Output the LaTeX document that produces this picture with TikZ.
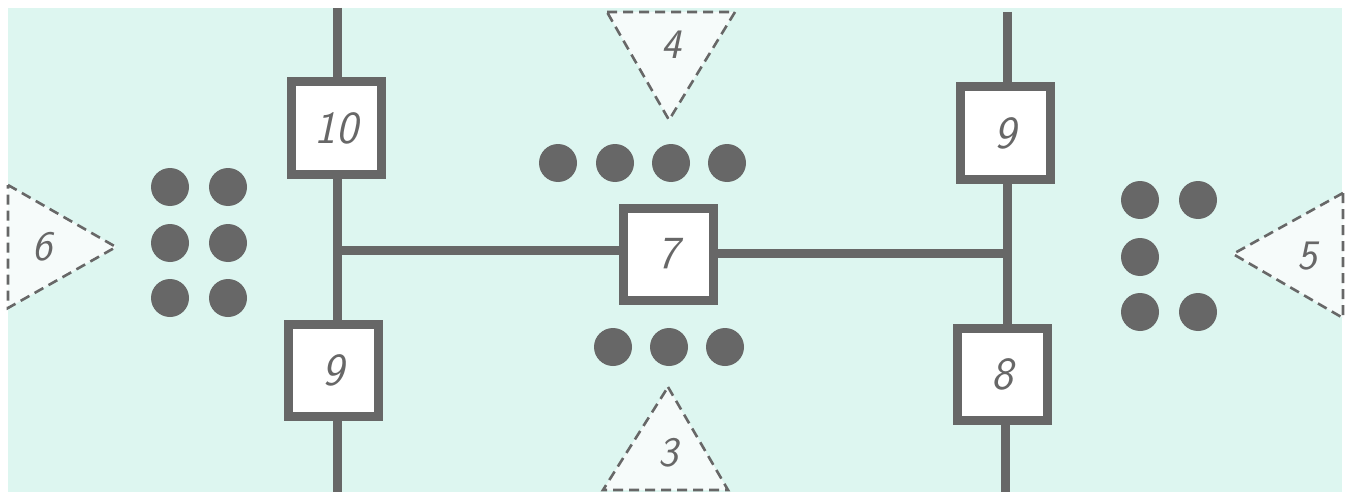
\documentclass[tikz,border=0pt]{standalone}
\usepackage{fontspec}
\usetikzlibrary{backgrounds}
\definecolor{bgcyan}{HTML}{DDF6F0}
\definecolor{ink}{HTML}{676767}
\definecolor{trifill}{HTML}{F6FBFA}
\tikzset{
  wire/.style={draw=ink, line width=9pt},
  stepbox/.style={draw=ink, line width=9pt, fill=white, minimum width=90pt, minimum height=92pt, inner sep=0pt, font=\fontsize{46}{46}\selectfont\sffamily\slshape, text=ink},
  dot/.style={circle, fill=ink, minimum size=38pt, inner sep=0pt},
  tri/.style={draw=ink, line width=2.6pt, dash pattern=on 10pt off 6pt, fill=trifill},
  trilabel/.style={font=\fontsize{42}{42}\selectfont\sffamily\slshape, text=ink, inner sep=0pt}
}
\begin{document}
\begin{tikzpicture}[x=1pt,y=-1pt]
\useasboundingbox (0,0) rectangle (1356,492);
\begin{scope}[on background layer]
\fill[white] (0,0) rectangle (1356,492);
\fill[bgcyan] (8,8) rectangle (1342,492);
\end{scope}
% junction coordinates
\coordinate (Ltop) at (337,8);
\coordinate (Lbot) at (337,492);
\coordinate (J1) at (337,250);
\coordinate (J2) at (1007,253);
\coordinate (Rtop) at (1007,12);
\coordinate (Rbot) at (1005,492);
% boxes
\node[stepbox] (b10) at (336,128) {10};
\node[stepbox] (b9l) at (333,370) {9};
\node[stepbox] (b7) at (668,254) {7};
\node[stepbox] (b9r) at (1005,133) {9};
\node[stepbox] (b8) at (1002,374) {8};
\begin{scope}[on background layer]
\draw[wire] (Ltop) -- (b10.north -| Ltop);
\draw[wire] (b10.south -| Ltop) -- (J1) -- (b9l.north -| J1);
\draw[wire] (b9l.south -| Lbot) -- (Lbot);
\draw[wire] (J1) -- (b7.west |- J1);
\draw[wire] (b7.east |- J2) -- (J2);
\draw[wire] (Rtop) -- (b9r.north -| Rtop);
\draw[wire] (b9r.south -| J2) -- (J2) -- (b8.north -| J2);
\draw[wire] (b8.south -| Rbot) -- (Rbot);
\end{scope}
% dots left
\node[dot] (dl1) at (170,187) {};
\node[dot] (dl2) at (228,187) {};
\node[dot] (dl3) at (170,243) {};
\node[dot] (dl4) at (228,243) {};
\node[dot] (dl5) at (170,298) {};
\node[dot] (dl6) at (228,298) {};
% dots top
\node[dot] (dt1) at (558,163) {};
\node[dot] (dt2) at (615,163) {};
\node[dot] (dt3) at (671,163) {};
\node[dot] (dt4) at (727,163) {};
% dots bottom
\node[dot] (db1) at (613,347) {};
\node[dot] (db2) at (669,347) {};
\node[dot] (db3) at (725,347) {};
% dots right
\node[dot] (dr1) at (1140,200) {};
\node[dot] (dr2) at (1198,200) {};
\node[dot] (dr3) at (1140,257) {};
\node[dot] (dr5) at (1140,312) {};
\node[dot] (dr6) at (1198,312) {};
% dashed triangles
\draw[tri] (8,185) -- (116,247) -- (8,308) -- cycle;
\node[trilabel] (t6) at (42,247) {6};
\draw[tri] (607,12) -- (735,12) -- (669,120) -- cycle;
\node[trilabel] (t4) at (671,45) {4};
\draw[tri] (668,387) -- (728,490) -- (603,490) -- cycle;
\node[trilabel] (t3) at (668,453) {3};
\draw[tri] (1343,193) -- (1343,318) -- (1233,254) -- cycle;
\node[trilabel] (t5) at (1307,256) {5};
\end{tikzpicture}
\end{document}
